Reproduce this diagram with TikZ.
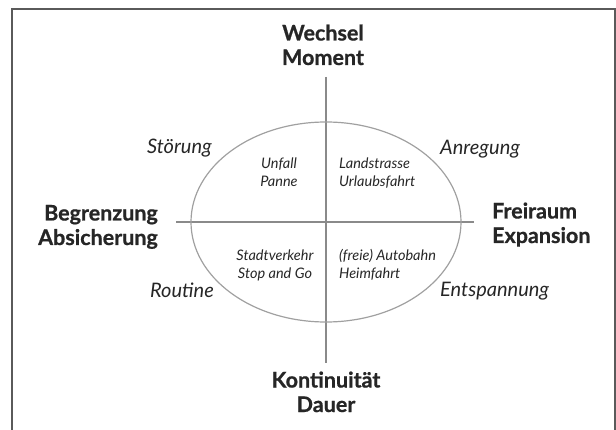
\documentclass[tikz,border=0pt]{standalone}
\usepackage{fontspec}
\setmainfont{Lato}
\newfontfamily\poleface{Lato}[BoldFeatures={FakeBold=0.8}]
\usetikzlibrary{shapes.geometric}
\definecolor{txt}{HTML}{262626}
\definecolor{axis}{HTML}{8A8A8A}
\definecolor{ell}{HTML}{A0A0A0}
\definecolor{frame}{HTML}{5A5A5A}
\begin{document}
\begin{tikzpicture}[x=1pt,y=-1pt,
  pole/.style={inner sep=0pt,text=txt,font=\poleface\bfseries\fontsize{21.5}{24.5}\selectfont},
  mood/.style={inner sep=0pt,text=txt,font=\itshape\fontsize{20}{22}\selectfont},
  case/.style={inner sep=0pt,text=txt,font=\itshape\fontsize{14.5}{18}\selectfont},
  axisline/.style={draw=axis,line width=1.3pt},
]
\useasboundingbox (0,0) rectangle (616,430);
\draw[frame,line width=2pt] (12,431) -- (12,9) -- (615,9) -- (615,431);

\coordinate (top) at (326,77);
\coordinate (bot) at (326,363);
\coordinate (lft) at (176,222);
\coordinate (rgt) at (474,222);
\draw[axisline] (top) -- (bot);
\draw[axisline] (lft) -- (rgt);
\node[draw=ell,line width=1.2pt,ellipse,minimum width=270pt,minimum height=200pt,inner sep=0pt] (ov) at (326,222) {};

\node[pole,anchor=base,align=center] (wm) at (323,65) {Wechsel\\Moment};
\node[pole,anchor=base,align=center] (kd) at (326,412) {Kontinuität\\Dauer};
\node[pole,anchor=base east,align=right] (ba) at (158,245) {Begrenzung\\Absicherung};
\node[pole,anchor=base west,align=left] (fe) at (492,243) {Freiraum\\Expansion};

\node[mood,anchor=base east] (st) at (212,154) {Störung};
\node[mood,anchor=base east] (ro) at (214,298) {Routine};
\node[mood,anchor=base west] (an) at (440,155) {Anregung};
\node[mood,anchor=base west] (en) at (440,297) {Entspannung};

\node[case,anchor=base,align=center] (up) at (279,187) {Unfall\\Panne};
\node[case,anchor=base west,align=left] (lu) at (339,187) {Landstrasse\\Urlaubsfahrt};
\node[case,anchor=base,align=center] (ss) at (275,279) {Stadtverkehr\\Stop and Go};
\node[case,anchor=base west,align=left] (ah) at (339,279) {(freie) Autobahn\\Heimfahrt};
\end{tikzpicture}
\end{document}
